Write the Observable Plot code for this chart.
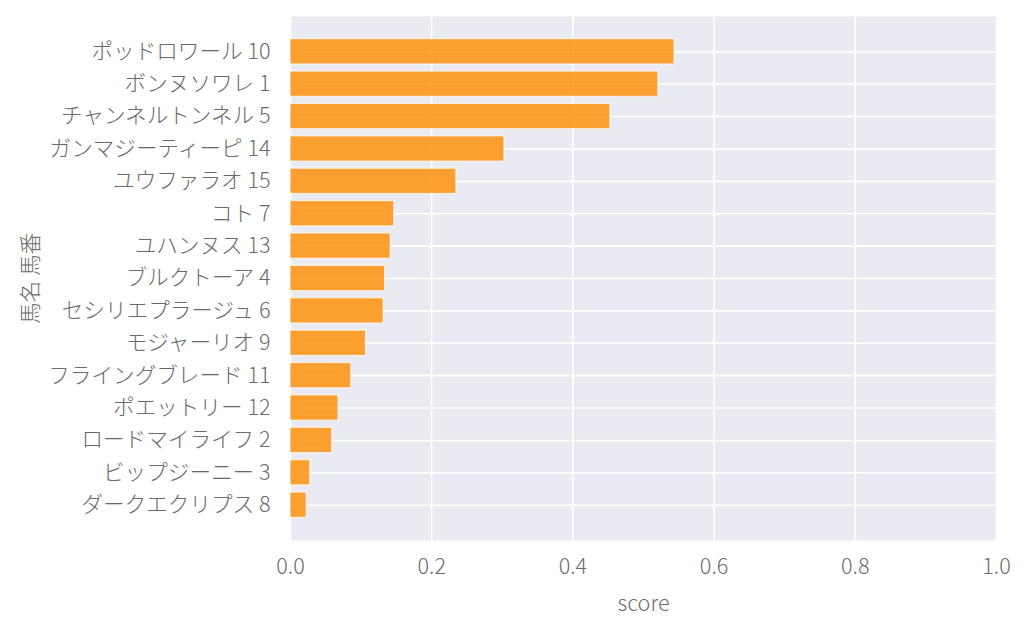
<!DOCTYPE html>
<html>
<head>
<meta charset="utf-8">
<script src="https://cdn.jsdelivr.net/npm/d3@7"></script>
<script src="https://cdn.jsdelivr.net/npm/@observablehq/plot@0.6"></script>
<style>
  html, body { margin: 0; padding: 0; background: white; }
  svg { display: block; }
</style>
</head>
<body>
<div id="chart"></div>
<script>
const names = [
  "ポッドロワール 10",
  "ボンヌソワレ 1",
  "チャンネルトンネル 5",
  "ガンマジーティーピ 14",
  "ユウファラオ 15",
  "コト 7",
  "ユハンヌス 13",
  "ブルクトーア 4",
  "セシリエプラージュ 6",
  "モジャーリオ 9",
  "フライングブレード 11",
  "ポエットリー 12",
  "ロードマイライフ 2",
  "ビップジーニー 3",
  "ダークエクリプス 8"
];
const scores = [0.544, 0.521, 0.453, 0.303, 0.235, 0.147, 0.142, 0.134, 0.132, 0.107, 0.086, 0.068, 0.059, 0.028, 0.023];
const xTicks = [0, 0.2, 0.4, 0.6, 0.8, 1.0];

const data = names.map((n, i) => ({name: n, score: scores[i]}));

const chart = Plot.plot({
  width: 1024,
  height: 631,
  marginLeft: 290,
  marginRight: 28,
  marginTop: 16,
  marginBottom: 91,
  style: {
    background: "white",
    fontFamily: "'Noto Sans CJK JP', 'Noto Sans', sans-serif",
    fontSize: "21.6px",
    fontWeight: 300,
    color: "#6a6a6a"
  },
  x: {domain: [0, 1]},
  y: {domain: names, paddingInner: 0.22, paddingOuter: 0.7, round: false},
  marks: [
    Plot.frame({fill: "#EAEAF2", stroke: null}),
    Plot.gridX({ticks: xTicks, stroke: "white", strokeOpacity: 1, strokeWidth: 1.6}),
    Plot.gridY({stroke: "white", strokeOpacity: 1, strokeWidth: 1.6}),
    Plot.barX(data, {x: "score", y: "name", fill: "#FF8C00", fillOpacity: 0.8, stroke: "white", strokeOpacity: 0.7, strokeWidth: 1.2}),
    Plot.axisX({ticks: xTicks, tickFormat: d3.format(".1f"), tickSize: 0, tickPadding: 18, label: "score", labelAnchor: "center", labelArrow: "none", labelOffset: 70}),
    Plot.axisY({tickSize: 0, tickPadding: 20, label: "馬名 馬番", labelAnchor: "center", labelArrow: "none", labelOffset: 268})
  ]
});
document.getElementById("chart").appendChild(chart);
</script>
</body>
</html>
